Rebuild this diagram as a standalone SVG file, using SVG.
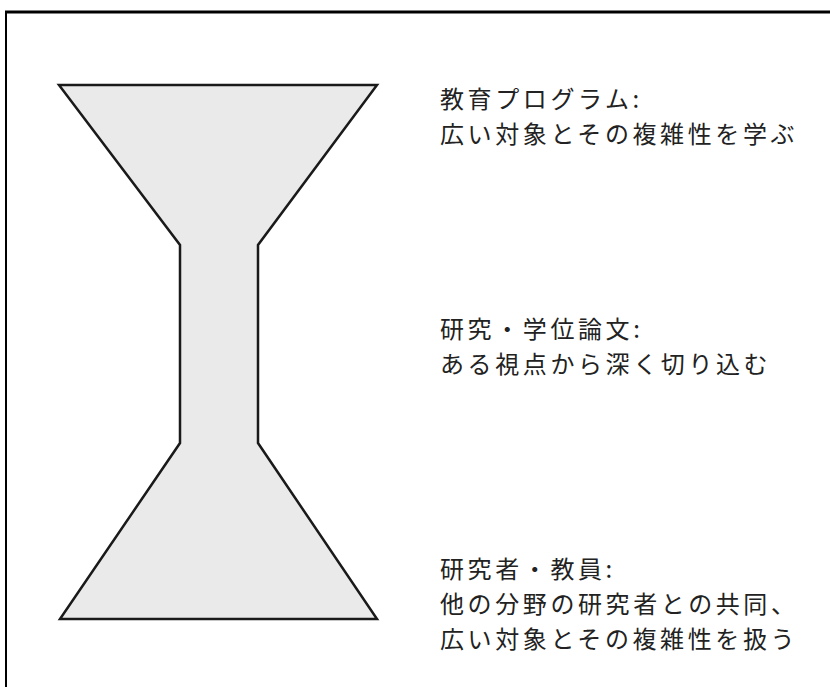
<svg xmlns="http://www.w3.org/2000/svg" width="830" height="687" viewBox="0 0 830 687">
<style>
.t{font-family:"Noto Sans CJK JP","Noto Sans CJK SC",sans-serif;font-size:24px;letter-spacing:3.6px;fill:#222}
.shape{fill:#ebeaea;stroke:#1a1a1a;stroke-width:2.5;stroke-linejoin:miter}
</style>
<rect width="830" height="687" fill="#fff"/>
<g id="frame">
<line x1="5" y1="12" x2="830" y2="12" stroke="#000" stroke-width="3"/>
<line x1="6" y1="11" x2="6" y2="687" stroke="#000" stroke-width="2"/>
</g>
<g id="hourglass">
<polygon class="shape" points="59,85 377,85 258,245 258,443 377,619 60,619 180,443 180,245"/>
</g>
<g id="label-education">
<text class="t" x="440" y="108">教育プログラム:</text>
<text class="t" x="440" y="143">広い対象とその複雑性を学ぶ</text>
</g>
<g id="label-research">
<text class="t" x="440" y="338">研究・学位論文:</text>
<text class="t" x="440" y="373">ある視点から深く切り込む</text>
</g>
<g id="label-researcher">
<text class="t" x="440" y="578">研究者・教員:</text>
<text class="t" x="440" y="613">他の分野の研究者との共同、</text>
<text class="t" x="440" y="648">広い対象とその複雑性を扱う</text>
</g>
</svg>
